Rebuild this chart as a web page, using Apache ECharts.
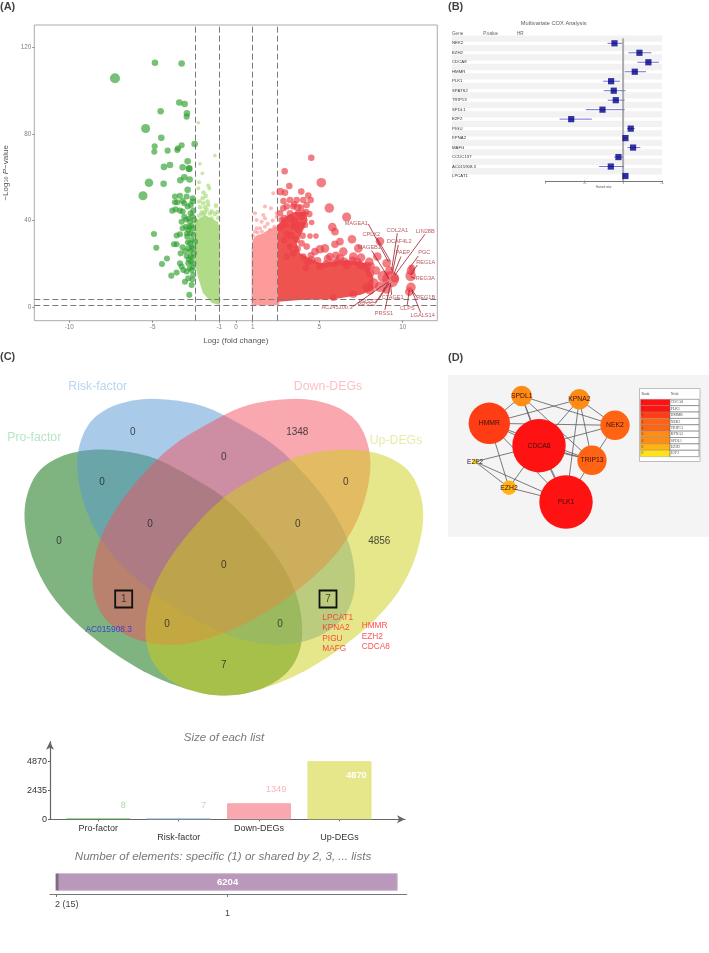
<!DOCTYPE html>
<html><head><meta charset="utf-8">
<style>html,body{margin:0;padding:0;background:#fff}#c{width:709px;height:953px;filter:blur(.4px)}</style>
<script src="https://cdn.jsdelivr.net/npm/echarts@6/dist/echarts.min.js"></script>
</head><body><div id="c"></div>
<script>
// ---------- Panel A: volcano plot values (log2FC, -log10 P, dot diameter)
const upCore=[[2.52,2.6],[2.52,38],[3.0,42],[3.5,44],[4.2,44],[4.3,40],[3.94,34.2],[3.64,29.5],[3.84,24.9],[5.04,20.3],[6.64,21.8],[7.84,20.3],[8.24,14.2],[8.24,8],[7.44,5.7],[5.84,3.7],[3.84,3.4]];
const upMildCore=[[0.94,0.9],[0.94,27],[1.0,31],[1.2,33],[1.6,34],[2.0,36],[2.6,38],[2.6,0.9]];
const downMildCore=[[-2.46,31],[-2.34,40.3],[-1.86,42.6],[-1.08,39.4],[-0.96,35.7],[-0.96,1.06],[-1.44,2],[-1.98,6.6],[-2.28,14],[-2.44,20]];
const downStrong=[[-7.26,105.7,9.5],[-4.86,112.9,6],[-3.26,112.5,6],[-3.4,94.5,6],[-3.08,93.8,6],[-4.52,90.5,6],[-2.94,89.5,6],[-2.96,88,5.5],[-5.42,82.5,8.5],[-4.48,78.2,6],[-2.48,75.4,6],[-4.88,74.3,5.5],[-3.26,74.8,5.5],[-3.48,73.4,5.5],[-4.9,71.8,5.5],[-4.1,72.3,5.5],[-3.52,72.6,5.5],[-2.9,67.4,6],[-3.96,65.7,6],[-4.32,64.8,6],[-3.2,64.6,6],[-2.82,64,6],[-2.8,64,6],[-3.1,60,6],[-3.34,58.6,6],[-2.78,59,6],[-5.22,57.5,8],[-4.34,57,6],[-2.9,54.2,6],[-5.58,51.5,8.5],
[-3.66,51.1,5.5],[-3.36,51.5,5.5],[-2.96,51.1,5.5],[-2.6,50.3,5.5],[-3.66,48.5,5.5],[-3.2,49.1,5.5],[-2.6,48.8,5.5],[-3.52,48.5,5.5],[-3.1,48,5.5],[-2.72,47.2,5.5],[-3.82,44.6,5.5],[-3.62,45.2,5.5],[-3.36,44.6,5.5],[-3.2,44.2,5.5],[-2.9,46.5,5.5],[-2.56,44.6,5.5],[-2.72,43.4,5.5],[-3.1,41.8,5.5],[-3.26,39.5,5.5],[-2.76,39.5,5.5],[-2.5,40.3,5.5],[-3,37.2,5.5],[-2.66,37.5,5.5],[-3.2,36.5,5.5],[-2.86,35.7,5.5],[-2.56,36.5,5.5],[-2.72,34.2,5.5],[-3.36,33.7,5.5],[-3.56,33.1,5.5],[-2.92,32.6,5.5],[-2.56,33.4,5.5],[-3.72,29.1,5.5],[-3.56,29.1,5.5],[-3.2,27.7,5.5],[-2.76,29.5,5.5],[-2.46,30.3,5.5],[-2.86,27.2,5.5],[-2.56,27.2,5.5],[-3.32,24.9,5.5],[-2.96,23.7,5.5],[-2.72,23.4,5.5],[-2.52,24.9,5.5],[-3.36,20.3,5.5],[-3.26,18.8,5.5],[-2.86,20.3,5.5],[-2.56,20.3,5.5],[-3.16,17.2,5.5],[-2.66,17.2,5.5],[-2.96,16.5,5.5],[-2.56,14.9,5.5],[-3.06,11.8,5.5],[-2.86,13.4,5.5],[-2.66,10.3,5.5],[-2.8,5.7,5.5],[-4.92,33.8,5.5],[-4.78,27.5,5.5],[-4.14,22.5,5.5],[-4.44,20,5.5],[-3.88,14.6,5.5],[-3.56,16,5.5],
[-2.8,37,5],[-2.65,31,5],[-2.9,30,5],[-2.75,26,5],[-2.6,23,5],[-2.85,22,5],[-2.7,21,5],[-3.05,26,5],[-2.65,28,5],[-2.95,34,5],[-2.58,18.5,5],[-2.78,18,5],[-2.62,12.8,5],[-3.0,40.5,5],[-2.84,41,5],[-2.62,42,5]];
const downMild=[[-2.26,85.2,3],[-1.26,70,3],[-2.16,66.2,3],[-2.02,61.8,3],[-2.22,57.7,3.5],[-1.66,56.2,3.5],[-1.6,54.9,3.5],[-2.26,54.9,3.5],[-1.82,51.4,4],[-2,50.3,4],[-2.2,48.8,4],[-1.96,48,4],[-1.66,47.2,4],[-1.2,46.9,4],[-2.16,46.2,4],[-1.86,46.2,4],[-1.46,44.2,4],[-1.76,45,4],[-2.06,43.8,4],[-1.56,43.3,4],[-1.26,43.1,4],[-2.2,42.3,4],[-1.86,43.8,4],[-1.46,41,4],[-1.06,41.2,4],[-1.96,42.9,4],[-2.4,39,4],[-2.42,35,4],[-2.3,38,4],[-1.1,44,4],[-1.7,48.8,4],[-1.95,53,4]];
const upMild=[[1.14,43.4,3.5],[2.24,52.6,3.5],[1.74,46.5,3.5],[2.1,45.7,3.5],[1.64,42.6,3.5],[1.24,40.3,3.5],[1.54,39.5,3.5],[1.74,41.1,3.5],[2.44,43.4,3.5],[2.44,41.8,3.5],[1.24,36.5,3.5],[1.44,36.5,3.5],[1.74,37.2,3.5],[2.04,35.7,3.5],[2.3,37.2,3.5],[1.14,34.9,3.5],[1.02,33,3.5],[1.3,34.5,3.5],[1.55,35,3.5],[1.9,38.5,3.5],[2.2,40,3.5]];
const upStrong=[[6.64,41.7,8.5],[5.6,45.8,9],[5.12,57.5,9],[4.52,69,6],[2.92,62.8,6],[3.2,56,6],[3.92,53.4,6],[4.34,51.6,6],[2.66,53.4,7],[2.94,52.9,6],[4.48,49.5,6],[5.78,37,8],[5.94,34.9,7],[6.96,31.4,8],[6.24,30.3,7],[5.94,29.1,7],[4.8,32.9,5],[4.44,32.9,5],[4.54,39.1,5],[4.14,38,6],[8.64,30.5,8],[7.34,27.2,8],[6.44,25.7,8],[5.34,27.2,8],[4.74,25.7,7],[5.04,26.8,8],[5.64,23.4,7],[6.24,22.6,8],[7.04,23.4,8],[8.48,23.4,8],[7.84,18.8,9],[9.04,20.3,8],[4.24,28,6],[4.04,23.4,6],[4.54,21.8,7],
[9.28,12.9,16],[8.84,14.2,11],[8.64,9.5,10],[9.54,13.4,8],[8.24,11.1,10],[8.04,8,9],[9.04,8,7],[9.2,17,8],[10.5,16.9,8],[10.48,14.5,10],[10.5,9.2,9],[10.4,7.2,8],[10.54,18.2,6],
[3.24,49.5,6],[3.64,49.5,6],[4.04,49.5,6],[2.84,45.7,6],[3.24,43.4,6],[3.74,43.4,6],[4.24,47.2,6],[3.94,41.8,6],[3.04,46.5,6],[3.44,46.5,6],[4.04,43.4,6],[2.64,43.4,6],[2.74,40.3,6],[3.44,37.2,6],[3.74,35.7,6],[3.04,34.2,6],[3.64,31.1,6],[3.24,28,6],[3.94,29.5,6],[3.44,24.9,6],[3.04,23.4,6],
[5.04,18.8,7],[5.84,20.3,8],[6.64,19.5,8],[7.44,19.5,8],[8.04,15.7,8],[5.84,4.4,6],[7.04,6,7],[7.84,9.2,8],[8.1,19,7],[7.3,21,7],[6.1,21,7],[5.4,20,7],[4.5,24,6],[4.2,18,6],
[2.9,41,7],[3.3,41,7],[3.7,46,7],[4.2,44,6],[3.5,40,7],[2.7,37,7],[3.0,38,6],[3.6,38,7],[3.9,38,6],[2.9,31,6],[3.3,33,7],[3.7,27,6],[4.0,33,6],[4.3,21,7],[4.9,21.5,7],[5.5,22.5,7],[6,24,7],[6.5,21,8],[7,21.5,8],[7.5,23,8],[8,21,8],[8.4,17,8],[2.85,49,6],[3.5,47.5,6],[3.9,46,6],[4.4,43,6]];
const xTicks=[-10,-5,-1,0,1,5,10];
const yTicks=[0,40,80,120];
const foldCuts=[-2.44,-1,1,2.5];
const pCuts=[1,3.7];
const geneNames=['MAGEA1','CPLX2','COL2A1','DCAF4L2','PAEP','LIN28B','MAGEB1','PGC','REG1A','REG3A','REG1B','LGALS14','CLPS','CTAGE1','PRSS1','PRSS3','PRSS2','AC245100.3'];
const geneTextAt=[[7.22,38.6],[8.12,33.7],[9.68,35.5],[9.8,30.2],[10,25.1],[11.36,35.1],[8,27.5],[11.3,25.4],[11.38,20.6],[11.36,13.2],[11.38,4.6],[11.2,-4],[10.28,-0.5],[9.4,4.5],[8.88,-2.8],[7.9,2.6],[7.84,1.5],[6.06,0]];
const geneLeaders=[[7.94,38.5,9.14,21.1],[8.44,32.2,9.28,21.1],[9.68,34.2,9.34,17.2],[9.74,28.8,9.4,16.5],[9.9,23.4,9.48,15.4],[11.34,33.7,9.54,14.9],[8.14,26.2,9.2,12.9],[10.94,23.7,10.48,18.8],[10.88,19.5,10.48,14.9],[10.76,13.2,10.48,14.2],[10.84,4.9,10.56,8],[11.08,-2.5,10.58,7.2],[10.28,1.1,10.4,8],[9.34,5.7,9.28,10.3],[8.94,-1.2,9.28,11.1],[8.54,3.4,9.2,11.1],[8.4,2.2,9.14,11.4],[7,0.3,9.14,11.8]];

// ---------- Panel B: multivariate COX forest
const coxGenes=['NEK2','EZH2','CDCA8','HMMR','PLK1','SPATS2','TRIP13','SPDL1','E2F2','PIGU','KPNA2','MAFG','CCDC137','AC015908.3','LPCAT1'];
const coxP=['0.02','0','0','0.02','0.01','0.12','0.09','0.06','0','0','0','0','0.02','0.06','0.01'];
const coxHR=['0.89 (0.8,0.98)','1.21 (1.07,1.36)','1.32 (1.19,1.46)','1.15 (1.02,1.29)','0.84 (0.74,0.96)','0.88 (0.75,1.03)','0.9 (0.8,1.02)','0.73 (0.52,1.02)','0.33 (0.18,0.59)','1.1 (1.05,1.16)','1.03 (1.01,1.05)','1.13 (1.05,1.22)','0.94 (0.89,0.99)','0.84 (0.69,1.01)','1.03 (1.01,1.05)'];
const coxEffect=[-0.111,0.21,0.325,0.15,-0.154,-0.12,-0.094,-0.265,-0.667,0.098,0.03,0.128,-0.06,-0.158,0.03];
const coxLow=[-0.2,0.068,0.184,0.021,-0.256,-0.248,-0.197,-0.479,-0.816,0.051,0.004,0.056,-0.115,-0.308,0.004];
const coxHigh=[-0.013,0.363,0.462,0.295,-0.038,0.03,0.021,0.021,-0.402,0.15,0.06,0.222,0,0.009,0.06];
const coxTicks=[-1,-0.5,0,0.5];

// ---------- Panel C: Venn diagram and list sizes
const vennSets=['Pro-factor','Risk-factor','Down-DEGs','Up-DEGs'];
const vennFill=['rgba(0,103,0,.5)','rgba(83,151,211,.5)','rgba(241,81,93,.5)','rgba(205,205,21,.5)'];
const vennOutline=[[103.3,449],[133.3,452.3],[156.7,458.3],[186.7,474],[223.3,495.7],[253.3,525.7],[277.7,556.7],[296,590],[303,623.3],[301,651],[287.7,674.3],[260,691],[223.3,697],[190,691],[146.7,674.3],[99.5,644],[59,607.2],[35.7,570],[24.5,530],[24.5,500],[35.7,472.3],[56.7,457.3],[80,450.7]];
const vennMirror=[1,1,-1,-1];
const vennShiftX=[0,52.7,394.9,447.7];
const vennShiftY=[0,-50.7,-50.7,0];
const vennSetColor=['#A5E0B5','#A9CBEA','#F8B0B8','#E3E590'];
const vennSetX=[34.3,97.7,328,396];
const vennSetY=[437.3,386.7,386.7,441];
const vennCounts=['0','1348','0','0','0','0','0','0','4856','0','1','7','0','0','7'];
const vennCountX=[132.7,297.3,223.7,102,345.7,150,297.7,59,379.3,223.7,123.7,328,167,280,223.7];
const vennCountY=[432.7,432.7,457.7,482.7,482.7,524,524,541,541,565.7,599,599,624,624,665.7];
const boxedX=[123.7,328], boxedY=[599,599];
const geneListRed=['LPCAT1','KPNA2','PIGU','MAFG','HMMR','EZH2','CDCA8'];
const geneListX=[322.3,322.3,322.3,322.3,361.7,361.7,361.7];
const geneListY=[617.3,628,638.7,648.7,625.3,636.3,647];
const listNames=['Pro-factor','Risk-factor','Down-DEGs','Up-DEGs'];
const listSizes=[8,7,1349,4870];
const listFill=['#2F7F2F','#6F9FD0','#F8A8AE','#E6E68A'];
const listBorder=['#4C8C4C','#6F8FAF','#F8A8AE','#E3E37F'];
const listLabel=['#A9D8A9','#B9D6F0','#F9B5B8','#FFFFFF'];
const listTicks=[0,2435,4870];
const sharedByTwo=15, specificToOne=6204;

// ---------- Panel D: hub gene network
const hubNames=['CDCA8','PLK1','HMMR','NEK2','TRIP13','KPNA2','SPDL1','EZH2','E2F2'];
const hubRank=[1,1,3,4,4,6,6,8,9];
const hubColor=['#FF1212','#FF1212','#FF3D14','#FF6414','#FF6414','#FF8C14','#FF8C14','#FFB414','#FFE314'];
const hubX=[539,566,489.3,615,592,579.3,521.7,509,475];
const hubY=[445.7,502,423.3,425.3,460.3,399.3,396,487.7,461.7];
const hubDiameter=[53.4,53.4,41.4,29.4,29.4,20.6,20.6,14.6,5];
const hubEdges=[['SPDL1','HMMR'],['SPDL1','CDCA8'],['SPDL1','TRIP13'],['SPDL1','NEK2'],['KPNA2','HMMR'],['KPNA2','CDCA8'],['KPNA2','NEK2'],['KPNA2','PLK1'],['KPNA2','TRIP13'],['HMMR','NEK2'],['HMMR','CDCA8'],['HMMR','PLK1'],['HMMR','EZH2'],['HMMR','TRIP13'],['NEK2','CDCA8'],['NEK2','TRIP13'],['TRIP13','CDCA8'],['TRIP13','PLK1'],['CDCA8','PLK1'],['CDCA8','EZH2'],['CDCA8','E2F2'],['E2F2','EZH2'],['E2F2','PLK1'],['EZH2','PLK1']];
const doubleEdges=[['SPDL1','CDCA8'],['TRIP13','CDCA8'],['CDCA8','PLK1']];

// ---------- helpers
const FONT='"Liberation Sans",Arial,sans-serif';
const STAGE={xAxisIndex:5,yAxisIndex:5};
function dots(name,data,color,opacity,z){return {type:'scatter',name,data,xAxisIndex:0,yAxisIndex:0,z,silent:true,symbolSize:v=>v[2]+.6,itemStyle:{color,opacity}};}
function area(name,pts,color,z){return {type:'custom',name,xAxisIndex:0,yAxisIndex:0,z,silent:true,clip:false,data:[pts[0]],
  renderItem:(p,api)=>({type:'polygon',shape:{points:pts.map(q=>api.coord(q))},style:{fill:color}})};}
function texts(name,xs,ys,strs,style,axis){
  return Object.assign({type:'scatter',name,silent:true,z:20,symbolSize:1,itemStyle:{color:'rgba(0,0,0,0)'},
    data:strs.map((s,i)=>({value:[xs[i],ys[i]],label:{formatter:String(s)}})),
    label:Object.assign({show:true,position:'inside',fontFamily:FONT},style)},axis||STAGE);
}
function stageText(name,x,y,s,style){return texts(name,[x],[y],[s],style);}
function roundCorners(pts,passes){ // corner-cutting so the read outline renders as a smooth curve
  let out=pts;
  for(let k=0;k<passes;k++){
    const next=[];
    out.forEach((a,i)=>{const b=out[(i+1)%out.length];
      next.push([.75*a[0]+.25*b[0],.75*a[1]+.25*b[1]],[.25*a[0]+.75*b[0],.25*a[1]+.75*b[1]]);});
    out=next;
  }
  return out;
}
const vennCurve=roundCorners(vennOutline,3);
const rowIdx=coxGenes.map((g,i)=>i);

const option={
  animation:false,backgroundColor:'#fff',
  grid:[
    {left:34.3,top:25,width:403,height:295.7,show:true,borderColor:'#ABABAB',borderWidth:1,outerBoundsMode:'none'},
    {left:545.3,top:38.56,width:116.7,height:142.2,outerBoundsMode:'none'},
    {left:50,top:741.7,width:355,height:77.6,outerBoundsMode:'none'},
    {left:50,top:870,width:356.7,height:24,outerBoundsMode:'none'},
    {left:0,top:0,width:709,height:953,outerBoundsMode:'none'},
    {left:0,top:0,width:709,height:953,outerBoundsMode:'none'}
  ],
  xAxis:[
    {type:'value',gridIndex:0,min:-12.1,max:12.08,containShape:false,splitLine:{show:false},axisLine:{show:false,onZero:false},
     axisTick:{show:true,length:2,lineStyle:{color:'#888'},customValues:xTicks},
     axisLabel:{customValues:xTicks,color:'#7F7F7F',fontSize:6.3,fontFamily:FONT,margin:4,formatter:v=>v<0?'-'+Math.abs(v):''+v},
     name:'{n|Log}{s|2}{n| (fold change)}',nameLocation:'middle',nameGap:16,
     nameTextStyle:{rich:{n:{fontSize:8,color:'#555',fontFamily:FONT},s:{fontSize:5.5,color:'#555',fontFamily:FONT,verticalAlign:'bottom'}}}},
    {type:'value',gridIndex:1,min:-1,max:0.5,containShape:false,splitLine:{show:false},
     axisLine:{show:true,onZero:false,lineStyle:{color:'#777',width:1}},
     axisTick:{show:true,length:2,lineStyle:{color:'#777'},customValues:coxTicks},
     axisLabel:{customValues:coxTicks,fontSize:2.5,color:'#777',margin:1,fontFamily:FONT},
     name:'Hazard ratio',nameLocation:'middle',nameGap:5,nameTextStyle:{fontSize:2.8,color:'#555',fontFamily:FONT}},
    {type:'value',gridIndex:2,min:-0.6,max:3.815,containShape:false,splitLine:{show:false},
     axisLine:{show:true,onZero:false,symbol:['none','arrow'],symbolSize:[6,8],lineStyle:{color:'#666',width:1.2}},
     axisTick:{show:true,length:2,lineStyle:{color:'#666'},customValues:[0,1,2,3]},
     axisLabel:{customValues:[0,1,2,3],color:'#333',fontSize:9,fontFamily:FONT,margin:5,lineHeight:8.5,
       formatter:v=>(v%2?'\n':'')+listNames[v]}},
    {type:'value',gridIndex:3,min:-122,max:6383,containShape:false,splitLine:{show:false},
     axisLine:{show:true,onZero:false,lineStyle:{color:'#777',width:1.2}},
     axisTick:{show:true,length:3,lineStyle:{color:'#777'},customValues:[0,3117]},
     axisLabel:{customValues:[0,3117],color:'#444',fontSize:9,fontFamily:FONT,margin:6,lineHeight:9,
       formatter:v=>v===0?'{a|2 (15)}':'\n1',rich:{a:{fontSize:9,color:'#444',fontFamily:FONT,padding:[0,0,0,20]}}}},
    {type:'value',gridIndex:4,min:0,max:709,show:false,containShape:false},
    {type:'value',gridIndex:5,min:0,max:709,show:false,containShape:false}
  ],
  yAxis:[
    {type:'value',gridIndex:0,min:-6.2,max:130.3,containShape:false,splitLine:{show:false},axisLine:{show:false,onZero:false},
     axisTick:{show:true,length:2,lineStyle:{color:'#888'},customValues:yTicks},
     axisLabel:{customValues:yTicks,color:'#7F7F7F',fontSize:6.3,fontFamily:FONT,margin:3},
     name:'{n|−Log}{s|10}{i| P}{n|−value}',nameLocation:'middle',nameGap:20,nameRotate:90,
     nameTextStyle:{rich:{n:{fontSize:8,color:'#555',fontFamily:FONT},i:{fontSize:8,color:'#555',fontStyle:'italic',fontFamily:FONT},s:{fontSize:5.5,color:'#555',fontFamily:FONT,verticalAlign:'bottom'}}}},
    {type:'category',gridIndex:1,data:coxGenes,inverse:true,z:6,axisLine:{show:false,onZero:false},axisTick:{show:false},splitLine:{show:false},
     axisLabel:{align:'left',margin:93.3,fontSize:4.3,color:'#333',fontFamily:FONT,interval:0}},
    {type:'value',gridIndex:2,min:0,max:6516,containShape:false,splitLine:{show:false},
     axisLine:{show:true,onZero:false,symbol:['none','arrow'],symbolSize:[6,8],lineStyle:{color:'#666',width:1.2}},
     axisTick:{show:true,length:2,lineStyle:{color:'#666'},customValues:listTicks},
     axisLabel:{customValues:listTicks,color:'#333',fontSize:9,fontFamily:FONT,margin:3,formatter:v=>String(v)}},
    {type:'category',gridIndex:3,data:['lists'],show:false},
    {type:'value',gridIndex:4,min:0,max:953,inverse:true,show:false,containShape:false},
    {type:'value',gridIndex:5,min:0,max:953,inverse:true,show:false,containShape:false}
  ],
  graphic:[{type:'rect',shape:{x:448,y:375,width:261,height:161.7},style:{fill:'#F4F4F4'},z:-1,silent:true}],
  series:[
    // Panel A
    area('downMildCore',downMildCore,'#B0DC88',2),
    dots('downMild',downMild,'#A5DB70',.65,3),
    dots('downStrong',downStrong,'#2CA02C',.65,4),
    area('upMildCore',upMildCore,'#FD9A9A',2),
    dots('upMild',upMild,'#FF8C8C',.6,3),
    area('upCore',upCore,'#EF5350',4),
    dots('upStrong',upStrong,'#EC4048',.68,5),
    {type:'scatter',name:'cuts',xAxisIndex:0,yAxisIndex:0,data:[],z:7,silent:true,
     markLine:{silent:true,symbol:['none','none'],label:{show:false},animation:false,
       lineStyle:{color:'#7A7A7A',type:[6,3],width:1},
       data:foldCuts.map(v=>({xAxis:v})).concat(pCuts.map(v=>({yAxis:v})))}},
    {type:'custom',name:'leaders',xAxisIndex:0,yAxisIndex:0,z:8,silent:true,clip:false,data:geneLeaders,encode:{x:[0,2],y:[1,3]},
     renderItem:(p,api)=>{const a=api.coord([api.value(0),api.value(1)]),b=api.coord([api.value(2),api.value(3)]);
       return {type:'line',shape:{x1:a[0],y1:a[1],x2:b[0],y2:b[1]},style:{stroke:'#A01C24',lineWidth:.8}};}},
    texts('geneTags',geneTextAt.map(p=>p[0]),geneTextAt.map(p=>p[1]),geneNames,{fontSize:5.6,color:'#A8323A'},{xAxisIndex:0,yAxisIndex:0}),
    // Panel B
    {type:'custom',name:'bands',xAxisIndex:1,yAxisIndex:1,z:1,silent:true,clip:false,data:rowIdx.map(i=>[-1,i]),
     renderItem:(p,api)=>{const c=api.coord([-1,api.value(1)]),r=api.coord([0.5,api.value(1)]);
       return {type:'rect',shape:{x:452,y:c[1]-7.9,width:r[0]-452,height:6.3},style:{fill:'#F2F2F2'}};}},
    {type:'custom',name:'zeroLine',xAxisIndex:1,yAxisIndex:1,z:2,silent:true,clip:false,data:[[0,0]],
     renderItem:(p,api)=>{const c=api.coord([0,0]);return {type:'line',shape:{x1:c[0],y1:c[1]-5,x2:c[0],y2:c[1]+137.5},style:{stroke:'#ABABAB',lineWidth:2}};}},
    {type:'custom',name:'ci',xAxisIndex:1,yAxisIndex:1,z:3,silent:true,clip:false,data:rowIdx.map(i=>[coxLow[i],i,coxHigh[i]]),encode:{x:[0,2],y:1},
     renderItem:(p,api)=>{const a=api.coord([api.value(0),api.value(1)]),b=api.coord([api.value(2),api.value(1)]);
       return {type:'line',shape:{x1:a[0],y1:a[1],x2:b[0],y2:b[1]},style:{stroke:'#7070D0',lineWidth:1}};}},
    {type:'scatter',name:'hr',xAxisIndex:1,yAxisIndex:1,z:4,silent:true,symbol:'rect',symbolSize:6.2,itemStyle:{color:'#00008B'},data:rowIdx.map(i=>[coxEffect[i],i])},
    texts('pvals',rowIdx.map(()=>-1.654),rowIdx,coxP,{fontSize:4.1,color:'#333',align:'right'},{xAxisIndex:1,yAxisIndex:1}),
    texts('hrs',rowIdx.map(()=>-1.158),rowIdx,coxHR,{fontSize:4.1,color:'#333',align:'right'},{xAxisIndex:1,yAxisIndex:1}),
    stageText('bTitle',553.7,23.3,'Multivariate COX Analysis',{fontSize:5.7,color:'#333'}),
    stageText('bGene',452,34,'Gene',{fontSize:4.6,color:'#333',align:'left'}),
    stageText('bP',490.7,34,'P.value',{fontSize:4.6,color:'#333'}),
    stageText('bHR',520.3,34,'HR',{fontSize:4.6,color:'#333'}),
    // Panel letters
    stageText('la',0,7,'(A)',{fontSize:11,fontWeight:'bold',color:'#111',align:'left'}),
    stageText('lb',448,7,'(B)',{fontSize:11,fontWeight:'bold',color:'#111',align:'left'}),
    stageText('lc',0,357,'(C)',{fontSize:11,fontWeight:'bold',color:'#111',align:'left'}),
    stageText('ld',448,357.5,'(D)',{fontSize:11,fontWeight:'bold',color:'#111',align:'left'}),
    // Panel C Venn
    {type:'custom',name:'venn',xAxisIndex:4,yAxisIndex:4,z:2,silent:true,clip:false,data:vennSets.map((s,i)=>[i,i]),
     renderItem:(p,api)=>{const i=api.value(0);
       return {type:'polygon',shape:{points:vennCurve.map(q=>api.coord([vennMirror[i]*q[0]+vennShiftX[i],q[1]+vennShiftY[i]]))},style:{fill:vennFill[i]}};}},
    {type:'custom',name:'boxes',xAxisIndex:4,yAxisIndex:4,z:3,silent:true,clip:false,data:boxedX.map((x,i)=>[x,boxedY[i]]),
     renderItem:(p,api)=>{const c=api.coord([api.value(0),api.value(1)]);
       return {type:'rect',shape:{x:c[0]-8.5,y:c[1]-8.5,width:17,height:17},style:{fill:'none',stroke:'#111',lineWidth:1.8}};}},
  ].concat(vennSets.map((s,i)=>stageText('set'+i,vennSetX[i],vennSetY[i],s,{fontSize:12.3,color:vennSetColor[i]}))).concat([
    texts('vennCounts',vennCountX,vennCountY,vennCounts,{fontSize:10,color:'#222'}),
    stageText('blueGene',108.7,629.3,'AC015908.3',{fontSize:8.4,color:'#2A2AE0'}),
    texts('redGenes',geneListX,geneListY,geneListRed,{fontSize:8.3,color:'#FF2424',align:'left'}),
    // List size bars
    {type:'bar',name:'listSize',xAxisIndex:2,yAxisIndex:2,barWidth:64,z:3,silent:true,
     data:listSizes.map((v,i)=>({value:[i,v],itemStyle:{color:listFill[i],borderColor:listBorder[i],borderWidth:1},
       label:{show:true,color:listLabel[i],fontWeight:i===3?'bold':'normal',fontSize:9.2,fontFamily:FONT,
         position:i===3?'insideTop':'top',offset:i===3?[17,5]:[i<2?25:17,i<2?-4:-4],formatter:String(v)}}))},
    stageText('sizeTitle',224,738,'Size of each list',{fontSize:11.5,fontStyle:'italic',color:'#555'}),
    stageText('numTitle',223,857,'Number of elements: specific (1) or shared by 2, 3, ... lists',{fontSize:11.6,fontStyle:'italic',color:'#555'}),
    {type:'bar',name:'shared2',xAxisIndex:3,yAxisIndex:3,stack:'n',barWidth:17.7,z:4,silent:true,data:[sharedByTwo],itemStyle:{color:'#7F6A85',borderColor:'#7F6A85',borderWidth:3}},
    {type:'bar',name:'specific1',xAxisIndex:3,yAxisIndex:3,stack:'n',barWidth:17.7,z:3,silent:true,data:[specificToOne],itemStyle:{color:'#B998BC',borderColor:'#CBB6CC',borderWidth:1},
     label:{show:true,position:'inside',color:'#fff',fontWeight:'bold',fontSize:9.5,fontFamily:FONT,formatter:'6204'}},
    // Panel D
    {type:'graph',name:'hubs',coordinateSystem:'cartesian2d',xAxisIndex:5,yAxisIndex:5,z:3,silent:true,
     data:hubNames.map((n,i)=>({name:n,value:[hubX[i],hubY[i]],symbolSize:hubDiameter[i],itemStyle:{color:hubColor[i]}})),
     links:hubEdges.map(e=>({source:e[0],target:e[1]})).concat(doubleEdges.map(e=>({source:e[0],target:e[1],lineStyle:{curveness:.03}}))),
     lineStyle:{color:'#5A5A5A',width:.8,opacity:1},
     label:{show:true,position:'inside',fontSize:6.8,color:'#3A1010',fontFamily:FONT}},
    {type:'custom',name:'tableFrame',xAxisIndex:5,yAxisIndex:5,z:4,silent:true,clip:false,data:[[639.5,388.5]],
     renderItem:(p,api)=>{const c=api.coord([api.value(0),api.value(1)]);
       return {type:'rect',shape:{x:c[0],y:c[1],width:60.5,height:73},style:{fill:'#fff',stroke:'#BDBDBD',lineWidth:1}};}},
    {type:'custom',name:'tableRows',xAxisIndex:5,yAxisIndex:5,z:5,silent:true,clip:false,data:hubNames.map((n,i)=>[i,i]),
     renderItem:(p,api)=>{const i=api.value(0),y=399.3+i*6.37;
       return {type:'group',children:[
         {type:'rect',shape:{x:640.5,y,width:29.5,height:6.37},style:{fill:hubColor[i],stroke:'#888',lineWidth:.4}},
         {type:'rect',shape:{x:670,y,width:29,height:6.37},style:{fill:'#fff',stroke:'#555',lineWidth:.5}}]};}},
    texts('tableRank',hubRank.map(()=>641.5),hubRank.map((r,i)=>402.5+i*6.37),hubRank,{fontSize:3.8,color:'#333',align:'left',fontFamily:'"Liberation Serif",serif'}),
    texts('tableNode',hubNames.map(()=>670.8),hubNames.map((r,i)=>402.5+i*6.37),hubNames,{fontSize:3.8,color:'#222',align:'left',fontFamily:'"Liberation Serif",serif'}),
    stageText('thRank',641.5,394.3,'Rank',{fontSize:3.8,color:'#222',align:'left',fontFamily:'"Liberation Serif",serif'}),
    stageText('thNode',670.8,394.3,'Node',{fontSize:3.8,color:'#222',align:'left',fontFamily:'"Liberation Serif",serif'})
  ])
};
const chart=echarts.init(document.getElementById('c'),null,{renderer:'canvas',width:709,height:953});
chart.setOption(option);
</script></body></html>
